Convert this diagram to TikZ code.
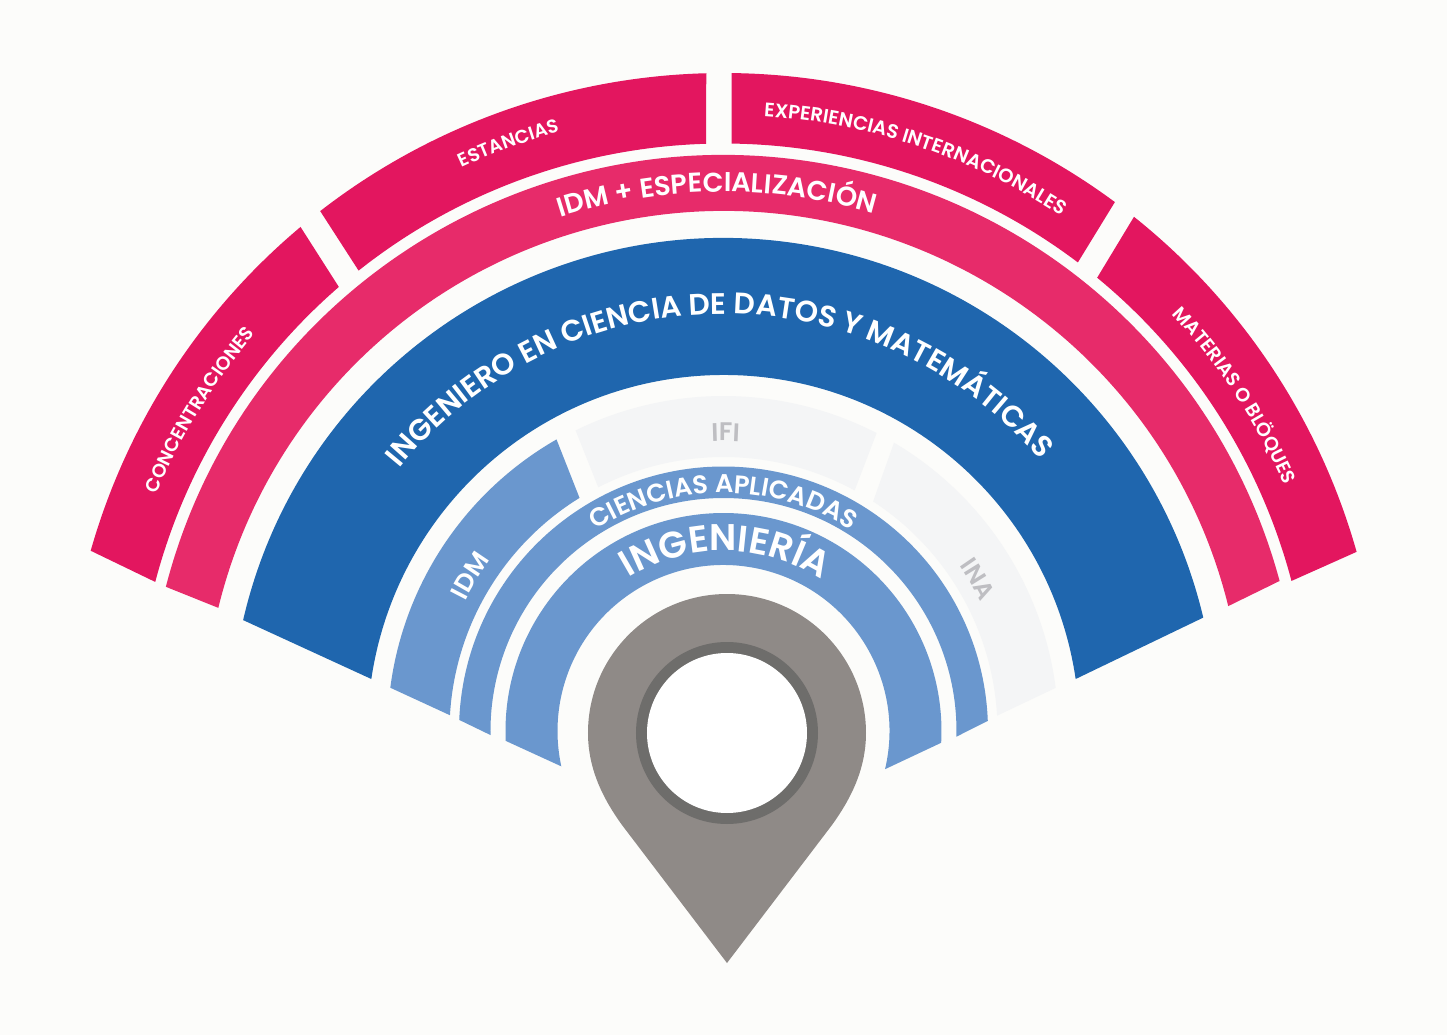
\documentclass[tikz,border=0pt]{standalone}
\usepackage{fontspec}
\usepackage{xcolor}
\usepackage{tikz}
\usetikzlibrary{decorations.text}
\setmainfont{Poppins}[BoldFont={Poppins SemiBold}]
\definecolor{cpaper}{RGB}{252,252,250}
\definecolor{cpink}{RGB}{227,22,95}
\definecolor{crose}{RGB}{231,43,106}
\definecolor{cblue}{RGB}{31,102,174}
\definecolor{csky}{RGB}{106,151,206}
\definecolor{cmist}{RGB}{244,245,246}
\definecolor{cfog}{RGB}{190,190,194}
\definecolor{cpin}{RGB}{143,138,135}
\definecolor{cpindark}{RGB}{110,109,107}
\newcommand{\arclabel}[5]{%
    \path[decorate, decoration={text along path, text align=center,
        text={|\color{#1}\bfseries\fontsize{#2}{#2}\selectfont|#5}}]
        ({#4+70}:#3) arc ({#4+70}:{#4-70}:#3);}

\begin{document}
\begin{tikzpicture}[x=0.02cm, y=0.02cm]
    % Page, origin at the centre of the fan
    \fill[cpaper] (-723.5,-304) rectangle (723.5,731);
    \useasboundingbox (-723.5,-304) rectangle (723.5,731);

    % Ring pieces: colour / outer r / inner r / outer angles / inner angles
    \foreach \col/\ro/\ri/\aa/\ab/\ac/\ad in {
        cpink/658/587.5/164.1/130.0/165.3/130.9,
        cpink/658/587.5/127.8/91.5/128.4/91.7,
        cpink/658/587.5/89.3/53.5/89.2/52.9,
        cpink/658/587.5/51.4/15.8/50.5/14.8,
        crose/576/520/165.5/15.1/166.3/13.9,
        cblue/493/356/167.0/13.3/171.6/8.4,
        csky/336/274/172.6/119.8/176.7/121.7,
        cmist/335/274/116.2/62.8/117.2/61.4,
        cmist/335/274/59.4/7.4/56.9/3.2,
        csky/264.5/233/177.6/2.2/181.0/-1.4,
        csky/218/166/182.6/-3.1/192.3/-13.3}
    {
        \fill[\col] (\aa:\ro) arc (\aa:\ab:\ro) -- (\ad:\ri) arc (\ad:\ac:\ri) -- cycle;
    }

    % Curved labels
    \arclabel{white}{10.8}{614}{148.5}{CONCENTRACIONES}
    \arclabel{white}{10.7}{621}{110.1}{ESTANCIAS}
    \arclabel{white}{11.1}{616}{71.5}{EXPERIENCIAS INTERNACIONALES}
    \arclabel{white}{10.9}{612}{33.3}{MATERIAS O BLÖQUES}
    \arclabel{white}{15.5}{539}{90.7}{IDM + ESPECIALIZACIÓN}
    \arclabel{white}{16.9}{417}{90.7}{INGENIERO EN CIENCIA DE DATOS Y MATEMÁTICAS}
    \arclabel{cfog}{14.5}{290}{89.6}{IFI}
    \arclabel{white}{14.5}{289}{148.5}{IDM}
    \arclabel{cfog}{14}{288}{30.8}{INA}
    \arclabel{white}{14.6}{238}{90}{CIENCIAS APLICADAS}
    \arclabel{white}{21.1}{180}{89.3}{INGENIERÍA}

    % Pin
    \begin{scope}[shift={(3.5,-2)}]
        \fill[cpin] (180:139) arc (180:0:139)
            .. controls (139,-37) and (123,-67) .. (105,-92)
            -- (0,-230) -- (-105,-92)
            .. controls (-123,-67) and (-139,-37) .. cycle;
        \fill[cpindark] (0,0) circle (91);
        \fill[white] (0,0) circle (80);
    \end{scope}
\end{tikzpicture}
\end{document}
